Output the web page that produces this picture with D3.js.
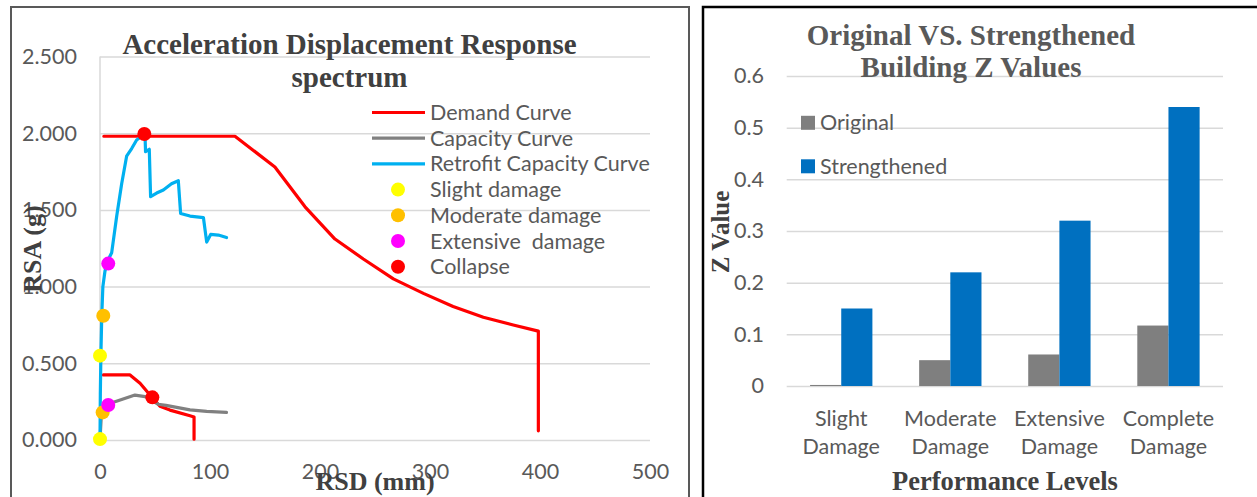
<!DOCTYPE html>
<html>
<head>
<meta charset="utf-8">
<script src="https://cdn.jsdelivr.net/npm/d3@7"></script>
<style>
	body { margin: 0; background: #fff; }
	svg { display: block; }
</style>
</head>
<body>
<div id="chart"></div>
<script>
// ---- left chart data (RSD mm, RSA g) ----
var demandLarge = [[3.5, 1.98], [122.7, 1.98], [159, 1.78], [186.4, 1.52], [213.6, 1.31], [239.4, 1.18],
	[266.7, 1.05], [294, 0.956], [321, 0.87], [348.5, 0.80], [375.7, 0.75], [398.5, 0.71], [398.5, 0.06]]
var demandSmall = [[3, 0.424], [27.3, 0.424], [36.4, 0.37], [47, 0.28], [54.5, 0.22], [63.6, 0.195],
	[81.8, 0.158], [85.5, 0.15], [85.5, 0.005]]
var capacity = [[0, 0], [1.5, 0.2], [3, 0.217], [13.6, 0.25], [31.8, 0.293], [41, 0.283], [53, 0.233],
	[60, 0.226], [69.7, 0.213], [81.8, 0.196], [97, 0.187], [115, 0.18]]
var retrofit = [[0, 0], [0.3, 0.3], [0.8, 0.55], [1.6, 0.81], [2.6, 1.0], [4.5, 1.1], [7, 1.17], [10.6, 1.22],
	[15.2, 1.46], [19.7, 1.67], [24.2, 1.85], [28.8, 1.9], [33.3, 1.956], [37.9, 1.98], [39.5, 1.99],
	[41, 1.97], [41.4, 1.88], [44.8, 1.895], [46, 1.586], [51.5, 1.61], [57.6, 1.63], [65, 1.67],
	[71.2, 1.69], [73.3, 1.477], [81.8, 1.46], [94, 1.45], [97, 1.29], [100.6, 1.34], [107.6, 1.336], [115, 1.32]]
var slight = [[0, 0.006], [0, 0.55]]
var moderate = [[2.4, 0.18], [3, 0.81]]
var extensive = [[7.5, 0.228], [7.5, 1.15]]
var collapse = [[47.6, 0.278], [40.3, 1.995]]
var rsaTicks = [0, 0.5, 1, 1.5, 2, 2.5]
var rsdTicks = [0, 100, 200, 300, 400, 500]

// ---- right chart data ----
var levels = ["Slight Damage", "Moderate Damage", "Extensive Damage", "Complete Damage"]
var original = [0.002, 0.05, 0.061, 0.117]
var strengthened = [0.15, 0.22, 0.32, 0.54]
var zTicks = [0, 0.1, 0.2, 0.3, 0.4, 0.5, 0.6]

var sans = "Lato, 'Open Sans', sans-serif"
var serif = "'Liberation Serif', 'Times New Roman', serif"
var fs = 21.5

var svg = d3.select("#chart").append("svg")
	.attr("width", 1257)
	.attr("height", 497)

// ================= LEFT CHART =================
var left = svg.append("g")

left.append("path")
	.attr("d", "M11,510 V7 H689 V510")
	.attr("fill", "none")
	.attr("stroke", "#595959")
	.attr("stroke-width", 2)

var x = d3.scaleLinear().domain([0, 500]).range([100, 650])
var y = d3.scaleLinear().domain([0, 2.5]).range([440, 56.5])

var yAxis = left.append("g")
	.attr("transform", "translate(100,0)")
	.call(d3.axisLeft(y).tickValues(rsaTicks).tickFormat(d3.format(".3f")).tickSize(-550).tickPadding(23))
yAxis.select(".domain").remove()
yAxis.selectAll("line").attr("stroke", "#d9d9d9").attr("stroke-width", 1.5)
yAxis.selectAll("text").attr("fill", "#595959").style("font", fs + "px " + sans)

left.append("line")
	.attr("x1", 100).attr("x2", 100)
	.attr("y1", y(2.5)).attr("y2", y(0))
	.attr("stroke", "#d9d9d9").attr("stroke-width", 1.5)

var xAxis = left.append("g")
	.attr("transform", "translate(0,440)")
	.call(d3.axisBottom(x).tickValues(rsdTicks).tickSize(0).tickPadding(24))
xAxis.select(".domain").remove()
xAxis.selectAll("text").attr("fill", "#595959").style("font", fs + "px " + sans)

var line = d3.line().x(d => x(d[0])).y(d => y(d[1]))

var curves = [
	{ data: demandLarge, color: "#ff0000" },
	{ data: demandSmall, color: "#ff0000" },
	{ data: capacity, color: "#808080" },
	{ data: retrofit, color: "#00b0f0" }
]
left.selectAll("path.curve")
	.data(curves)
	.enter()
	.append("path")
	.attr("class", "curve")
	.attr("d", d => line(d.data))
	.attr("fill", "none")
	.attr("stroke", d => d.color)
	.attr("stroke-width", 3.2)
	.attr("stroke-linejoin", "round")
	.attr("stroke-linecap", "round")

var pointSets = [
	{ data: slight, color: "#ffff00" },
	{ data: moderate, color: "#ffc000" },
	{ data: extensive, color: "#ff00ff" },
	{ data: collapse, color: "#ff0000" }
]
pointSets.forEach(s => {
	left.append("g")
		.selectAll("circle")
		.data(s.data)
		.enter()
		.append("circle")
		.attr("cx", d => x(d[0]))
		.attr("cy", d => y(d[1]))
		.attr("r", 7)
		.attr("fill", s.color)
})

// legend
var legendItems = [
	{ name: "Demand Curve", color: "#ff0000", type: "line" },
	{ name: "Capacity Curve", color: "#808080", type: "line" },
	{ name: "Retrofit Capacity Curve", color: "#00b0f0", type: "line" },
	{ name: "Slight damage", color: "#ffff00", type: "dot" },
	{ name: "Moderate damage", color: "#ffc000", type: "dot" },
	{ name: "Extensive  damage", color: "#ff00ff", type: "dot" },
	{ name: "Collapse", color: "#ff0000", type: "dot" }
]
var leg = left.selectAll("g.leg")
	.data(legendItems)
	.enter()
	.append("g")
	.attr("class", "leg")
	.attr("transform", (d, i) => "translate(0," + (112.5 + i * 25.7) + ")")
leg.filter(d => d.type == "line").append("line")
	.attr("x1", 372).attr("x2", 425)
	.attr("stroke", d => d.color).attr("stroke-width", 3.2)
leg.filter(d => d.type == "dot").append("circle")
	.attr("cx", 398).attr("r", 7)
	.attr("fill", d => d.color)
leg.append("text")
	.attr("x", 430)
	.attr("dy", "0.35em")
	.attr("fill", "#595959")
	.style("font", fs + "px " + sans)
	.style("white-space", "pre")
	.text(d => d.name)

// titles
left.append("text")
	.attr("x", 349.5).attr("y", 54)
	.attr("text-anchor", "middle")
	.attr("fill", "#404040")
	.style("font", "bold 29px " + serif)
	.text("Acceleration Displacement Response")
left.append("text")
	.attr("x", 349.5).attr("y", 87)
	.attr("text-anchor", "middle")
	.attr("fill", "#404040")
	.style("font", "bold 29px " + serif)
	.text("spectrum")

left.append("text")
	.attr("transform", "translate(41,249) rotate(-90)")
	.attr("text-anchor", "middle")
	.attr("fill", "#404040")
	.style("font", "bold 26px " + serif)
	.text("RSA (g)")
left.append("text")
	.attr("x", 375).attr("y", 490)
	.attr("text-anchor", "middle")
	.attr("fill", "#404040")
	.style("font", "bold 26px " + serif)
	.text("RSD (mm)")

// ================= RIGHT CHART =================
var right = svg.append("g")

right.append("path")
	.attr("d", "M703,510 V7 H1262")
	.attr("fill", "none")
	.attr("stroke", "#000")
	.attr("stroke-width", 2.5)

var x0 = d3.scaleBand().domain(levels).range([786.7, 1223]).paddingInner(0.4286).paddingOuter(0.2143)
var x1 = d3.scaleBand().domain(["Original", "Strengthened"]).range([0, x0.bandwidth()])
var yz = d3.scaleLinear().domain([0, 0.6]).range([386, 76])

var zAxis = right.append("g")
	.attr("transform", "translate(786.7,0)")
	.call(d3.axisLeft(yz).tickValues(zTicks).tickFormat(d => String(d)).tickSize(-436.3).tickPadding(22.7))
zAxis.select(".domain").remove()
zAxis.selectAll("line").attr("stroke", "#d9d9d9").attr("stroke-width", 1.5)
zAxis.selectAll("text").attr("fill", "#595959").style("font", fs + "px " + sans)

var groups = right.selectAll("g.grp")
	.data(levels)
	.enter()
	.append("g")
	.attr("class", "grp")
	.attr("transform", d => "translate(" + x0(d) + ",0)")
groups.append("rect")
	.attr("x", x1("Original"))
	.attr("y", (d, i) => yz(original[i]))
	.attr("width", x1.bandwidth())
	.attr("height", (d, i) => yz(0) - yz(original[i]))
	.attr("fill", "#7f7f7f")
groups.append("rect")
	.attr("x", x1("Strengthened"))
	.attr("y", (d, i) => yz(strengthened[i]))
	.attr("width", x1.bandwidth())
	.attr("height", (d, i) => yz(0) - yz(strengthened[i]))
	.attr("fill", "#0070c0")

var catAxis = right.append("g")
	.attr("transform", "translate(0,386)")
	.call(d3.axisBottom(x0).tickSize(0))
catAxis.select(".domain").remove()
catAxis.selectAll("text").each(function (d) {
	var t = d3.select(this)
	var parts = d.split(" ")
	t.text(null).attr("y", null).attr("dy", null)
	t.append("tspan").attr("x", 0).attr("y", 32.3 + 7.5).text(parts[0])
	t.append("tspan").attr("x", 0).attr("y", 60.7 + 7.5).text(parts[1])
})
catAxis.selectAll("text").attr("fill", "#595959").style("font", fs + "px " + sans)

// legend
var zLegend = [
	{ name: "Original", color: "#7f7f7f" },
	{ name: "Strengthened", color: "#0070c0" }
]
var zl = right.selectAll("g.zleg")
	.data(zLegend)
	.enter()
	.append("g")
	.attr("class", "zleg")
	.attr("transform", (d, i) => "translate(0," + (122.8 + i * 43.5) + ")")
zl.append("rect")
	.attr("x", 801).attr("y", -7)
	.attr("width", 14).attr("height", 14)
	.attr("fill", d => d.color)
zl.append("text")
	.attr("x", 820)
	.attr("dy", "0.35em")
	.attr("fill", "#595959")
	.style("font", fs + "px " + sans)
	.text(d => d.name)

right.append("text")
	.attr("x", 971).attr("y", 45)
	.attr("text-anchor", "middle")
	.attr("fill", "#595959")
	.style("font", "bold 29px " + serif)
	.text("Original VS. Strengthened")
right.append("text")
	.attr("x", 971).attr("y", 77.3)
	.attr("text-anchor", "middle")
	.attr("fill", "#595959")
	.style("font", "bold 29px " + serif)
	.text("Building Z Values")

right.append("text")
	.attr("transform", "translate(729,232) rotate(-90)")
	.attr("text-anchor", "middle")
	.attr("fill", "#404040")
	.style("font", "bold 25px " + serif)
	.text("Z Value")
right.append("text")
	.attr("x", 1005).attr("y", 490)
	.attr("text-anchor", "middle")
	.attr("fill", "#404040")
	.style("font", "bold 26.5px " + serif)
	.text("Performance Levels")
</script>
</body>
</html>
